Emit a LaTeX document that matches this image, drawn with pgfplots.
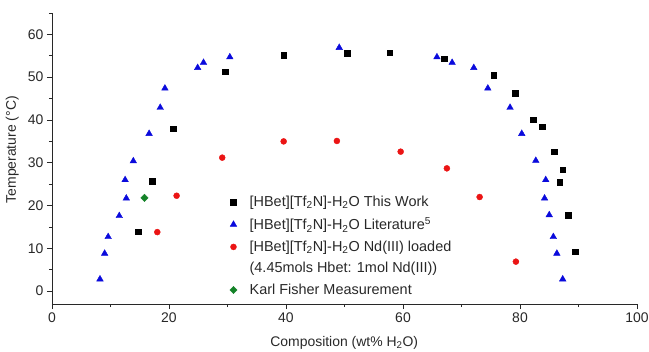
\documentclass[border=0pt]{standalone}
\usepackage{fontspec}
\setmainfont{Liberation Sans}
\usepackage{pgfplots}
\pgfplotsset{compat=1.18}
\definecolor{myblue}{RGB}{10,10,220}
\definecolor{myred}{RGB}{235,20,20}
\definecolor{mygreen}{RGB}{20,130,40}
\definecolor{txt}{RGB}{40,40,40}
\begin{document}
\begin{tikzpicture}
\begin{axis}[
  scale only axis, width=585bp, height=291bp,
  xmin=0, xmax=100, ymin=-3, ymax=65,
  axis x line*=bottom, axis y line*=left,
  axis line style={txt, line width=0.8bp},
  xtick={0,20,40,60,80,100}, ytick={0,10,20,30,40,50,60},
  minor xtick={10,30,50,70,90}, minor ytick={5,15,25,35,45,55,65},
  tick align=outside,
  major tick length=5bp, minor tick length=3bp,
  every tick/.style={txt, line width=0.8bp},
  /pgf/number format/assume math mode=true,
  tick label style={font=\fontsize{14}{16}\selectfont, text=txt},
  label style={font=\fontsize{14}{16}\selectfont, text=txt},
  xlabel={Composition (wt\% H\textsubscript{2}O)},
  ylabel={Temperature (°C)},
  xlabel style={at={(axis description cs:0.4995,-0.134)}, anchor=center},
  ylabel style={at={(axis description cs:-0.068,0.53)}, anchor=center, rotate=0},
  legend style={at={(axis description cs:0.2985,0.385)}, anchor=north west, draw=none, fill=none,
    font=\fontsize{14.5}{16}\selectfont, text=txt, row sep=5.6bp},
  legend cell align=left,
  legend image code/.code={\draw[#1, only marks] plot coordinates {(0.1cm,0cm)}; \path[draw=none] (0,0) -- (0.6cm,0);},
  clip=false,
]
\addplot[only marks, mark=square*, mark size=2.8bp, black] coordinates {
(14.7,13.9) (17.1,25.7) (20.7,38.0) (29.6,51.3) (39.6,55.1) (50.5,55.6) (57.7,55.7)
(67.0,54.3) (75.5,50.5) (79.2,46.3) (82.3,40.1) (83.8,38.4) (85.8,32.6) (87.3,28.4)
(86.8,25.4) (88.2,17.8) (89.4,9.2)
};
\addlegendentry{[HBet][Tf\textsubscript{2}N]-H\textsubscript{2}O This Work}
\addplot[only marks, mark=triangle*, mark size=3.8bp, myblue] coordinates {
(8.2,2.8) (9.0,8.8) (9.6,12.7) (11.5,17.6) (12.7,21.7) (12.5,26.0) (13.9,30.4)
(16.6,36.8) (18.5,42.9) (19.3,47.4) (24.9,52.2) (25.9,53.4) (30.4,54.7) (49.1,56.9)
(65.8,54.7) (68.4,53.4) (72.1,52.2) (74.5,47.4) (78.3,42.9) (80.3,36.8) (82.7,30.5)
(84.4,26.0) (84.2,21.7) (85.0,17.8) (85.7,12.7) (86.3,8.8) (87.3,2.8)
};
\addlegendentry{[HBet][Tf\textsubscript{2}N]-H\textsubscript{2}O Literature\textsuperscript{5}}
\addplot[only marks, mark=*, mark size=3.0bp, myred] coordinates {
(18.0,13.8) (21.3,22.3) (29.1,31.2) (39.6,35.0) (48.7,35.1) (59.6,32.6) (67.5,28.7)
(73.1,22.0) (79.3,6.9)
};
\addlegendentry{[HBet][Tf\textsubscript{2}N]-H\textsubscript{2}O Nd(III) loaded}
\addlegendimage{legend image code/.code={\path[draw=none] (0,0) -- (0.6cm,0);}}
\addlegendentry{(4.45mols Hbet: 1mol Nd(III))}
\addplot[only marks, mark=square*, mark size=2.6bp, mark options={rotate=45}, mygreen] coordinates {
(15.8,21.8)
};
\addlegendentry{Karl Fisher Measurement}
\coordinate (o) at (rel axis cs:0,0);
\end{axis}
\pgfresetboundingbox
\path[use as bounding box] (o) ++(-52bp,-48bp) rectangle ++(649bp,352bp);
\end{tikzpicture}
\end{document}
